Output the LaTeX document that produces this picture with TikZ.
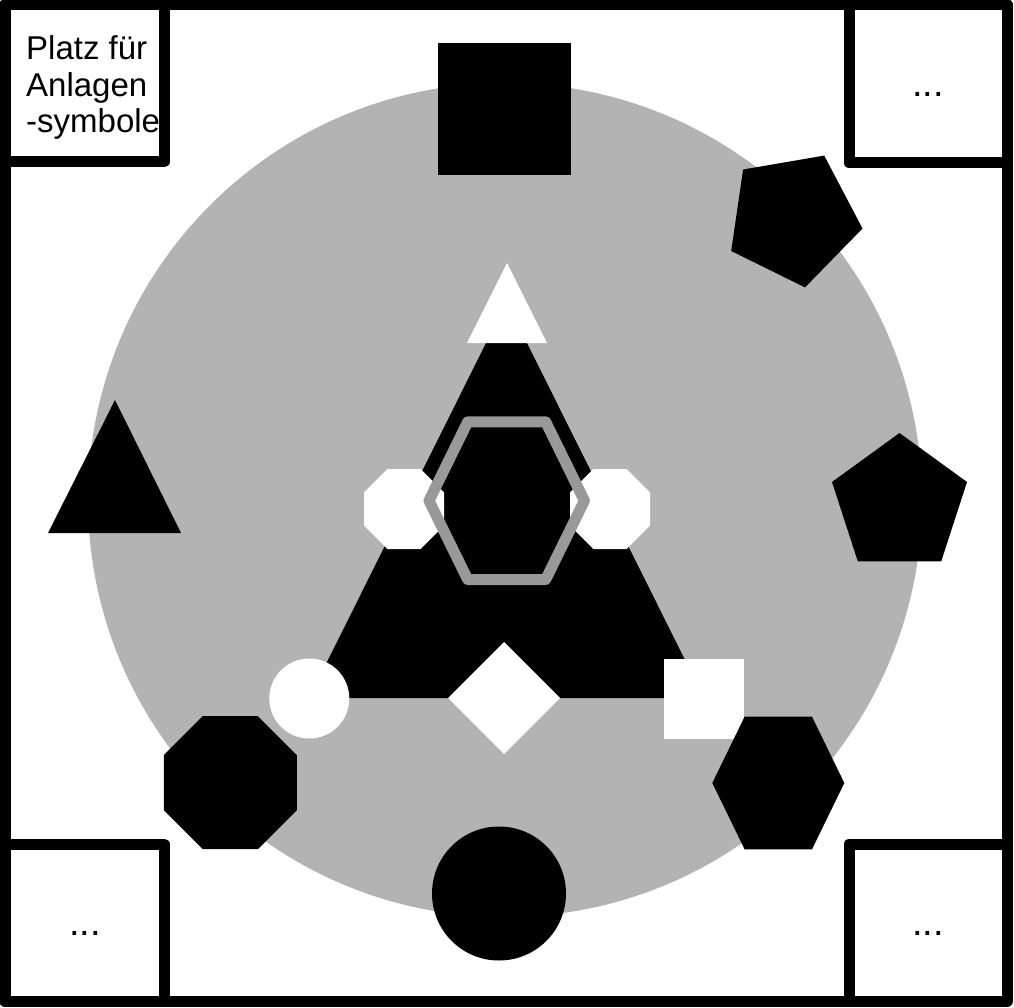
\documentclass[tikz,border=0pt]{standalone}
\usepackage{fontspec}
\setmainfont{Liberation Sans}
\definecolor{circgray}{HTML}{B3B3B3}
\definecolor{hexgray}{HTML}{999999}
\begin{document}
\begin{tikzpicture}[x=1pt,y=-1pt,
  frameline/.style={line width=11pt, line join=round, line cap=round},
  blk/.style={fill=black},
  wht/.style={fill=white},
  hexline/.style={draw=hexgray, line width=11pt, line join=round},
  lbl/.style={font=\fontsize{33}{39}\selectfont, inner sep=0pt, anchor=base west},
  dots/.style={font=\fontsize{38}{44}\selectfont, inner sep=0pt, anchor=base}]
\useasboundingbox (0,0) rectangle (1014,1008);
% background circle
\fill[circgray] (505,500) circle[radius=417];
% frame and corner boxes
\draw[frameline] (5,5) rectangle (1007,1001);
\draw[frameline] (5,162) -- (164,162) -- (164,5);
\draw[frameline] (849,5) -- (849,163) -- (1007,163);
\draw[frameline] (5,844) -- (164,844) -- (164,1001);
\draw[frameline] (1007,844) -- (849,844) -- (849,1001);
% texts
\node[lbl] (t1) at (26,60) {Platz für};
\node[lbl] (t2) at (26,97) {Anlagen};
\node[lbl] (t3) at (26,133) {-symbole};
\node[dots] (d1) at (928,97) {...};
\node[dots] (d2) at (85,935) {...};
\node[dots] (d3) at (928,935) {...};
% outer shapes
\fill[blk] (438,43) rectangle (571,175);
\fill[blk] (824.2,155.6) -- (862.5,228.5) -- (805.0,287.4) -- (731.2,251.0) -- (743.1,169.5) -- cycle;
\fill[blk] (899.5,433) -- (967,482) -- (941.2,561.4) -- (857.8,561.4) -- (832,482) -- cycle;
\fill[blk] (115,400) -- (181,533) -- (48,533) -- cycle;
% central triangle
\fill[blk] (506.5,302) -- (704,698) -- (309,698) -- cycle;
\fill[wht] (507,263) -- (547,343) -- (467,343) -- cycle;
% white octagons
\fill[wht] (404,509) +(22.5:43.3) -- +(67.5:43.3) -- +(112.5:43.3) -- +(157.5:43.3) -- +(202.5:43.3) -- +(247.5:43.3) -- +(292.5:43.3) -- +(337.5:43.3) -- cycle;
\fill[wht] (610,509) +(22.5:43.3) -- +(67.5:43.3) -- +(112.5:43.3) -- +(157.5:43.3) -- +(202.5:43.3) -- +(247.5:43.3) -- +(292.5:43.3) -- +(337.5:43.3) -- cycle;
% gray hexagon outline
\draw[hexline] (429,500.7) -- (467.7,421.9) -- (545.7,421.9) -- (584.4,500.7) -- (545.7,579.5) -- (467.7,579.5) -- cycle;
% white shapes on base
\fill[wht] (309.3,698.5) circle[radius=40];
\fill[wht] (504,642) -- (560,698) -- (504,754) -- (448,698) -- cycle;
\fill[wht] (664.3,658.5) rectangle (744.3,738.5);
% lower black shapes
\fill[blk] (230.3,782.7) +(22.5:72) -- +(67.5:72) -- +(112.5:72) -- +(157.5:72) -- +(202.5:72) -- +(247.5:72) -- +(292.5:72) -- +(337.5:72) -- cycle;
\fill[blk] (712.3,783) -- (744.6,716.7) -- (812,716.7) -- (844.3,783) -- (812,849.3) -- (744.6,849.3) -- cycle;
\fill[blk] (499,893.5) circle[radius=67];
\end{tikzpicture}
\end{document}
